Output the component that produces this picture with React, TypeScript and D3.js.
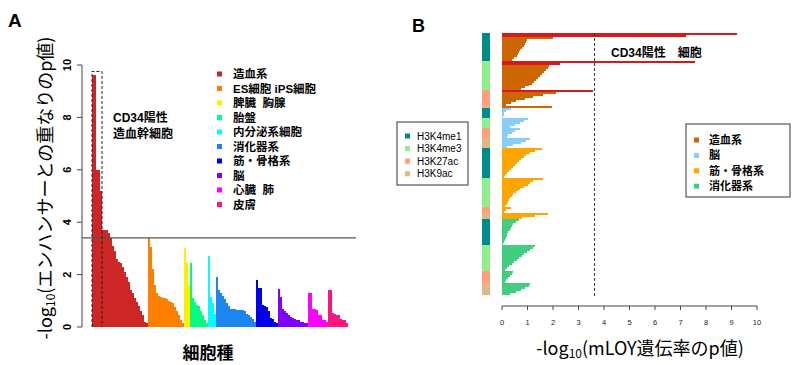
import * as d3 from "d3";
import React from "react";

const width = 800;
const height = 365;
const latin = "'Liberation Sans', Arial, 'Noto Sans CJK JP', sans-serif";
const jp = "'Noto Sans CJK JP', 'Liberation Sans', sans-serif";

// ---- panel A: enhancer overlap, one bar per cell type, grouped by tissue
const tissuesA = ["造血系", "ES細胞 iPS細胞", "脾臓  胸腺", "胎盤", "内分泌系細胞", "消化器系", "筋・骨格系", "脳", "心臓  肺", "皮膚"];
const colorsA = ["#CD2626", "#FF7F00", "#FFF000", "#00FF7F", "#00FFFF", "#1C86EE", "#0000EE", "#8000FF", "#FF00FF", "#FF1480"];
const aHema = [9.6, 9.6, 6.0, 6.0, 5.2, 3.7, 3.7, 3.7, 3.6, 3.4, 3.1, 2.9, 2.6, 2.5, 2.45, 2.3, 2.1, 1.9, 1.7, 1.4, 1.3, 1.1, 0.95, 0.8, 0.6, 0.45, 0.2, 0.15];
const aStem = [3.4, 3.05, 2.2, 1.6, 1.3, 1.2, 1.15, 1.1, 1.1, 1.05, 1.0, 0.95, 0.9, 0.75, 0.6, 0.45, 0.25, 0.15];
const aSpleen = [3.0, 2.5, 1.6];
const aPlacenta = [2.45, 1.1, 0.95, 0.85, 0.8, 0.6, 0.45, 0.25, 0.15];
const aEndo = [2.7, 1.15, 0.9, 0.5];
const aDigest = [1.9, 1.4, 1.3, 1.2, 1.05, 0.9, 0.8, 0.7, 0.68, 0.67, 0.66, 0.65, 0.65, 0.64, 0.6, 0.5, 0.45, 0.4, 0.3, 0.2];
const aMuscle = [1.8, 1.5, 1.5, 0.85, 0.8, 0.75, 0.6, 0.35, 0.3, 0.2, 0.15];
const aBrain = [1.45, 1.15, 0.7, 0.6, 0.55, 0.45, 0.4, 0.35, 0.3, 0.28, 0.25, 0.2, 0.18, 0.17, 0.15];
const aHeart = [1.3, 1.3, 0.7, 0.7, 0.65, 0.45, 0.45, 0.27, 0.25, 0.2];
const aSkin = [1.4, 1.4, 0.55, 0.5, 0.45, 0.45, 0.3, 0.28, 0.25, 0.15];
const groupsA = [aHema, aStem, aSpleen, aPlacenta, aEndo, aDigest, aMuscle, aBrain, aHeart, aSkin];
const cd34CountA = 5;
const thresholdA = 3.4;
const ticksA = [0, 2, 4, 6, 8, 10];

// ---- panel B: mLOY heritability p, rows by tissue x histone mark
const marksB = ["H3K4me1", "H3K4me3", "H3K27ac", "H3K9ac"];
const markColors = ["#008B8B", "#90EE90", "#FFA07A", "#DEB887"];
const tissuesB = ["造血系", "脳", "筋・骨格系", "消化器系"];
const tissueColorsB = ["#CD6600", "#87CEFA", "#FFA500", "#43CD80"];
const bHema = [
  [9.2, 7.2, 2.0, 0.97, 0.93, 0.9, 0.85, 0.78, 0.72, 0.67, 0.62, 0.57, 0.48, 0.38],
  [7.55, 2.27, 1.85, 1.8, 1.72, 1.65, 1.58, 1.5, 1.42, 1.35, 1.27, 1.18, 1.05, 0.9, 0.75],
  [3.57, 2.1, 1.6, 1.2, 0.9, 0.55, 0.35, 0.15],
  [1.95],
];
const bBrain = [
  [0.35, 0.15, 0.08, 0.06, 0.05],
  [1.0, 0.85, 0.7, 0.5, 0.3],
  [0.7, 0.5, 0.4, 0.25, 0.18],
  [1.1, 0.95, 0.75, 0.45, 0.2],
];
const bMuscle = [
  [1.55, 1.3, 1.1, 0.95, 0.85, 0.75, 0.65, 0.58, 0.5, 0.42, 0.35, 0.28, 0.2, 0.12, 0.08],
  [1.6, 1.2, 1.1, 1.0, 0.85, 0.7, 0.62, 0.55, 0.45, 0.38, 0.32, 0.28, 0.22, 0.18, 0.12],
  [0.35, 0.15, 0.08],
  [1.8, 1.3, 0.8],
];
const bDigest = [
  [0.65, 0.55, 0.45, 0.4, 0.35, 0.3, 0.25, 0.2, 0.18, 0.15, 0.12, 0.08, 0.05],
  [1.3, 1.2, 1.1, 0.97, 0.88, 0.77, 0.67, 0.57, 0.47, 0.38, 0.28, 0.18, 0.1],
  [0.45, 0.4, 0.3, 0.22, 0.15, 0.1],
  [1.1, 1.05, 0.9, 0.75, 0.55, 0.3],
];
const groupsB = [bHema, bBrain, bMuscle, bDigest];
const cd34RowsB = [2, 2, 1, 0]; // leading CD34+ rows in 造血系, per mark
const cd34LineB = 3.63;
const ticksB = d3.range(0, 11);

const barsA = groupsA.flatMap((g, gi) => g.map((v) => ({ v, color: colorsA[gi] }))).map((d, i) => ({ ...d, i }));
const xA = d3.scaleBand<number>().domain(barsA.map((d) => d.i)).range([92, 348]);
const yA = d3.scaleLinear().domain([0, 10]).range([327, 65]);

const rowsB = groupsB.flatMap((g, ti) =>
  g.flatMap((vals, mi) =>
    vals.map((v, k) => ({ v, ti, mi, red: ti === 0 && k < cd34RowsB[mi] }))
  )
).map((d, i) => ({ ...d, i }));
const xB = d3.scaleLinear().domain([0, 10]).range([502, 757]);
const yB = d3.scaleBand<number>().domain(rowsB.map((d) => d.i)).range([33, 294.5]);
const stripB = d3.groups(rowsB, (d) => `${d.ti}-${d.mi}`).map(([, rs]) => ({
  mi: rs[0].mi,
  y0: yB(rs[0].i)!,
  y1: yB(rs[rs.length - 1].i)! + yB.bandwidth(),
}));

const App = () => {
  const boxTop = yA(aHema[0]) - 4;
  return (
    <svg width={width} height={height} style={{ position: "absolute", left: 0, top: 0, background: "#fff" }} fontFamily={latin}>
      {/* ---------- A ---------- */}
      <text x={8} y={27} fontSize={19} fontWeight="bold">A</text>
      <text transform={`translate(44,188) rotate(-90)`} textAnchor="middle" dominantBaseline="central" fontSize={18} fontFamily={jp}>
        -log<tspan fontSize={12} dy={5}>10</tspan><tspan dy={-5}>(エンハンサーとの重なりのp値)</tspan>
      </text>
      <line x1={82} x2={82} y1={yA(0)} y2={yA(10)} stroke="#444" />
      {ticksA.map((t) => (
        <g key={t}>
          <line x1={77} x2={82} y1={yA(t)} y2={yA(t)} stroke="#444" />
          <text transform={`translate(67,${yA(t)}) rotate(-90)`} textAnchor="middle" dominantBaseline="central" fontSize={11} fontWeight="bold">{t}</text>
        </g>
      ))}
      {barsA.map((d) => (
        <rect key={d.i} x={xA(d.i)} y={yA(d.v)} width={xA.bandwidth()} height={yA(0) - yA(d.v)} fill={d.color} shapeRendering="crispEdges" />
      ))}
      <line x1={82} x2={356} y1={yA(thresholdA)} y2={yA(thresholdA)} stroke="#555" strokeWidth={1.2} />
      <path
        d={`M${xA(0)},${yA(0)}V${boxTop}H${xA(cd34CountA)}V${yA(0)}`}
        fill="none" stroke="#222" strokeDasharray="3,2" strokeWidth={1}
      />
      <text x={113} y={122} fontSize={12} fontWeight="bold" fontFamily={latin}>CD34陽性</text>
      <text x={113} y={138} fontSize={12} fontWeight="bold" fontFamily={jp}>造血幹細胞</text>
      {tissuesA.map((t, i) => (
        <g key={t} transform={`translate(0,${74 + i * 14.5})`}>
          <rect x={217} y={-2.5} width={5} height={5} fill={colorsA[i]} />
          <text x={233} y={0} dominantBaseline="central" fontSize={11.5} fontWeight="bold" style={{ whiteSpace: "pre" }}>{t}</text>
        </g>
      ))}
      <text x={208} y={351} textAnchor="middle" dominantBaseline="central" fontSize={17} fontWeight="bold" fontFamily={jp}>細胞種</text>

      {/* ---------- B ---------- */}
      <text x={412} y={32} fontSize={18} fontWeight="bold">B</text>
      {stripB.map((s, i) => (
        <rect key={i} x={482} y={s.y0} width={7.5} height={s.y1 - s.y0} fill={markColors[s.mi]} shapeRendering="crispEdges" />
      ))}
      {rowsB.map((d) => (
        <rect key={d.i} x={xB(0)} y={yB(d.i)} width={xB(d.v) - xB(0)} height={yB.bandwidth()}
          fill={d.red ? "#D7191C" : tissueColorsB[d.ti]} shapeRendering="crispEdges" />
      ))}
      <line x1={xB(cd34LineB)} x2={xB(cd34LineB)} y1={33} y2={296} stroke="#333" strokeDasharray="3,2" />
      <text x={611} y={57} fontSize={12} fontWeight="bold" style={{ whiteSpace: "pre" }}>CD34陽性　細胞</text>
      <line x1={xB(0)} x2={xB(10)} y1={306} y2={306} stroke="#444" />
      {ticksB.map((t) => (
        <g key={t}>
          <line x1={xB(t)} x2={xB(t)} y1={306} y2={310} stroke="#444" />
          <text x={xB(t)} y={322} textAnchor="middle" dominantBaseline="central" fontSize={7.5} fill="#222">{t}</text>
        </g>
      ))}
      <text x={640} y={347} textAnchor="middle" dominantBaseline="central" fontSize={18} fontFamily={jp}>
        -log<tspan fontSize={12} dy={5}>10</tspan><tspan dy={-5}>(mLOY遺伝率のp値)</tspan>
      </text>
      {/* histone legend */}
      <rect x={397} y={122} width={71} height={63} fill="#fff" stroke="#555" strokeWidth={1.2} />
      {marksB.map((m, i) => (
        <g key={m} transform={`translate(0,${136 + i * 12.6})`}>
          <rect x={405} y={-2.5} width={5} height={5} fill={markColors[i]} />
          <text x={417} y={0} dominantBaseline="central" fontSize={10}>{m}</text>
        </g>
      ))}
      {/* tissue legend */}
      <rect x={686} y={124} width={104} height={73} fill="#fff" stroke="#555" strokeWidth={1.2} />
      {tissuesB.map((t, i) => (
        <g key={t} transform={`translate(0,${140 + i * 15.4})`}>
          <rect x={694} y={-2.5} width={5} height={5} fill={tissueColorsB[i]} />
          <text x={709} y={0} dominantBaseline="central" fontSize={11} fontWeight="bold">{t}</text>
        </g>
      ))}
    </svg>
  );
};

export default App;
